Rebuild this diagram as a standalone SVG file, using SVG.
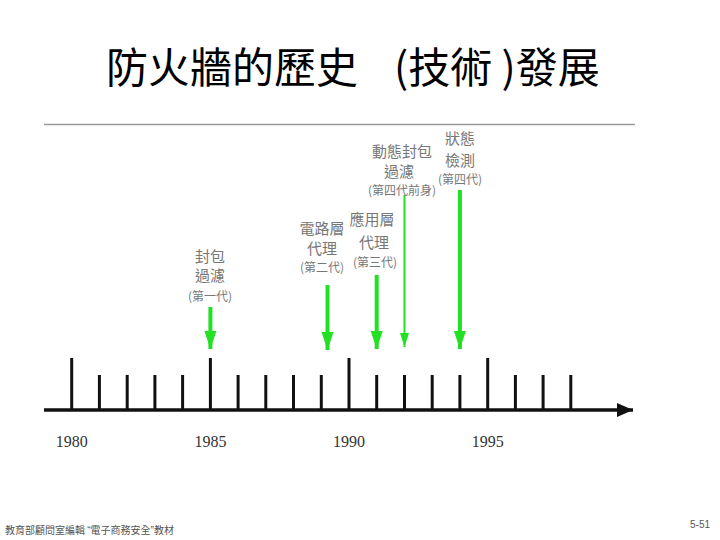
<svg xmlns="http://www.w3.org/2000/svg" width="720" height="540" viewBox="0 0 720 540">
<style>
.title{font-family:"Noto Sans CJK TC","Noto Sans CJK SC",sans-serif;font-size:42px;fill:#000}
.lbl{font-family:"Noto Sans CJK TC","Noto Sans CJK SC",sans-serif;font-size:15px;fill:#777;text-anchor:middle}
.sm{font-size:12px}
.yr{font-family:"Liberation Serif",serif;font-size:16px;fill:#333;text-anchor:middle}
.foot{font-family:"Noto Sans CJK TC","Noto Sans CJK SC",sans-serif;font-size:10px;fill:#555}
.q{font-family:"Liberation Sans",sans-serif}
.tick{stroke:#111;stroke-width:3}
.g{stroke:#22e022;stroke-width:4;marker-end:url(#gh)}
.gt{stroke:#22e022;stroke-width:2;marker-end:url(#ght)}
</style>
<defs>
<marker id="gh" markerUnits="userSpaceOnUse" markerWidth="20" markerHeight="14" refX="18" refY="0" orient="auto" overflow="visible"><path d="M0,-6 L18,0 L0,6 z" fill="#22e022"/></marker>
<marker id="ght" markerUnits="userSpaceOnUse" markerWidth="16" markerHeight="10" refX="14" refY="0" orient="auto" overflow="visible"><path d="M0,-4.5 L14,0 L0,4.5 z" fill="#22e022"/></marker>
<marker id="bh" markerUnits="userSpaceOnUse" markerWidth="18" markerHeight="16" refX="16" refY="0" orient="auto" overflow="visible"><path d="M0,-7 L16,0 L0,7 z" fill="#111"/></marker>
</defs>
<rect width="720" height="540" fill="#fff"/>
<g id="title"><text class="title" x="106" y="83">防火牆的歷史</text><text class="title" x="394" y="83">(技術 )發展</text></g>
<line x1="44" y1="124.5" x2="635" y2="124.5" stroke="#999" stroke-width="1.5"/>
<g id="axis">
<line x1="44" y1="410" x2="633" y2="410" stroke="#111" stroke-width="3.5" marker-end="url(#bh)"/>
<line class="tick" x1="71.7" y1="358" x2="71.7" y2="410"/>
<line class="tick" x1="99.4" y1="375" x2="99.4" y2="410"/>
<line class="tick" x1="127.2" y1="375" x2="127.2" y2="410"/>
<line class="tick" x1="154.9" y1="375" x2="154.9" y2="410"/>
<line class="tick" x1="182.6" y1="375" x2="182.6" y2="410"/>
<line class="tick" x1="210.4" y1="358" x2="210.4" y2="410"/>
<line class="tick" x1="238.1" y1="375" x2="238.1" y2="410"/>
<line class="tick" x1="265.8" y1="375" x2="265.8" y2="410"/>
<line class="tick" x1="293.5" y1="375" x2="293.5" y2="410"/>
<line class="tick" x1="321.3" y1="375" x2="321.3" y2="410"/>
<line class="tick" x1="349" y1="358" x2="349" y2="410"/>
<line class="tick" x1="376.7" y1="375" x2="376.7" y2="410"/>
<line class="tick" x1="404.5" y1="375" x2="404.5" y2="410"/>
<line class="tick" x1="432.2" y1="375" x2="432.2" y2="410"/>
<line class="tick" x1="459.9" y1="375" x2="459.9" y2="410"/>
<line class="tick" x1="487.7" y1="358" x2="487.7" y2="410"/>
<line class="tick" x1="515.4" y1="375" x2="515.4" y2="410"/>
<line class="tick" x1="543.1" y1="375" x2="543.1" y2="410"/>
<line class="tick" x1="570.8" y1="375" x2="570.8" y2="410"/>
<text class="yr" x="71.7" y="447">1980</text>
<text class="yr" x="210.4" y="447">1985</text>
<text class="yr" x="349" y="447">1990</text>
<text class="yr" x="487.7" y="447">1995</text>
</g>
<g id="connectors">
<line class="g" x1="210.4" y1="307" x2="210.4" y2="349"/>
<line class="g" x1="327.5" y1="285" x2="327.5" y2="350"/>
<line class="g" x1="376.7" y1="275" x2="376.7" y2="349"/>
<line class="gt" x1="404.5" y1="195" x2="404.5" y2="347"/>
<line class="g" x1="459.9" y1="190" x2="459.9" y2="349"/>
</g>
<g id="gen1"><text class="lbl" x="210" y="262">封包</text><text class="lbl" x="210" y="281">過濾</text><text class="lbl sm" x="210" y="301">(第一代)</text></g>
<g id="gen2"><text class="lbl" x="322" y="234">電路層</text><text class="lbl" x="322" y="254">代理</text><text class="lbl sm" x="322" y="272">(第二代)</text></g>
<g id="gen3"><text class="lbl" x="372" y="225">應用層</text><text class="lbl" x="374" y="248">代理</text><text class="lbl sm" x="375" y="267">(第三代)</text></g>
<g id="gen4pre"><text class="lbl" x="402" y="157">動態封包</text><text class="lbl" x="399" y="177">過濾</text><text class="lbl sm" x="402" y="195">(第四代前身)</text></g>
<g id="gen4"><text class="lbl" x="460" y="144">狀態</text><text class="lbl" x="460" y="166">檢測</text><text class="lbl sm" x="460" y="184">(第四代)</text></g>
<g id="footer"><text class="foot" x="5" y="534">教育部顧問室編輯 <tspan class="q">“</tspan>電子商務安全<tspan class="q">”</tspan>教材</text><text class="foot" x="690" y="528" style="font-family:'Liberation Sans',sans-serif;font-size:10px">5-51</text></g>
</svg>
